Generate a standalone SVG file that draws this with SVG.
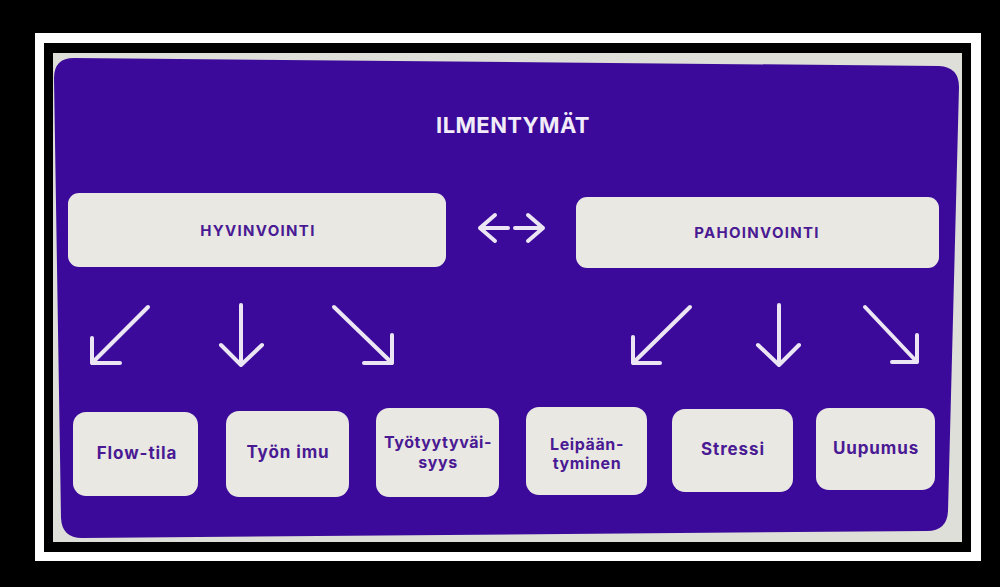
<svg xmlns="http://www.w3.org/2000/svg" width="1000" height="587" viewBox="0 0 1000 587">
<style>
.box{fill:#e9e8e2;}
.lbl{font-family:Inter,"Liberation Sans",sans-serif;font-weight:700;fill:#4a1a94;text-anchor:middle;}
.big{font-size:17px;letter-spacing:0.9px;}
.two{font-size:16px;letter-spacing:0.6px;}
.head{font-size:15px;letter-spacing:1.3px;}
.arr{fill:none;stroke:#ece6f4;stroke-width:4;stroke-linecap:round;stroke-linejoin:round;}
</style>
<rect x="0" y="0" width="1000" height="587" fill="#000"/>
<rect x="35" y="33" width="946" height="528" fill="#fff"/>
<rect x="44" y="43" width="927" height="509" fill="#000"/>
<rect x="53" y="53" width="909" height="489" fill="#dedfd8"/>
<path id="panel" d="M 74,58 L 939,66 Q 959,67 959,87 L 948,511 Q 947,531 927,531 L 82,538 Q 62,538 61,518 L 54,78 Q 54,58 74,58 Z" fill="#3b0a9a"/>
<g id="title"><text x="513" y="133" font-family="Inter,'Liberation Sans',sans-serif" font-weight="700" font-size="22" letter-spacing="0.4" fill="#f1ecf8" text-anchor="middle">ILMENTYMÄT</text></g>
<g id="hyvinvointi"><rect class="box" x="68" y="193" width="378" height="74" rx="11"/><text class="lbl head" x="258" y="236">HYVINVOINTI</text></g>
<g id="pahoinvointi"><rect class="box" x="576" y="197" width="363" height="71" rx="11"/><text class="lbl head" x="757" y="238">PAHOINVOINTI</text></g>
<g id="flow"><rect class="box" x="73" y="412" width="125" height="84" rx="13"/><text class="lbl big" x="137" y="459">Flow-tila</text></g>
<g id="tyonimu"><rect class="box" x="226" y="411" width="123" height="86" rx="13"/><text class="lbl big" x="288" y="458">Työn imu</text></g>
<g id="tyytyvaisyys"><rect class="box" x="376" y="408" width="123" height="89" rx="13"/><text class="lbl two" x="438" y="448">Työtyytyväi-</text><text class="lbl two" x="438" y="468">syys</text></g>
<g id="leipaantyminen"><rect class="box" x="526" y="407" width="121" height="88" rx="13"/><text class="lbl two" x="587" y="450">Leipään-</text><text class="lbl two" x="587" y="469">tyminen</text></g>
<g id="stressi"><rect class="box" x="672" y="409" width="121" height="83" rx="13"/><text class="lbl big" x="733" y="455">Stressi</text></g>
<g id="uupumus"><rect class="box" x="816" y="408" width="119" height="82" rx="13"/><text class="lbl big" x="876" y="454">Uupumus</text></g>
<g id="connectors" class="arr">
<path d="M480,228 L508,228 M495,215 L480,228 L495,241"/>
<path d="M515,228 L543,228 M528,215 L543,228 L528,241"/>
<path d="M148,307 L92,363 M92,338 L92,363 L120,363"/>
<path d="M241,305 L241,365 M221,345 L241,365 L262,345"/>
<path d="M334,307 L392,363 M392,335 L392,363 L364,363"/>
<path d="M690,307 L633,363 M633,337 L633,363 L660,363"/>
<path d="M779,305 L779,365 M758,345 L779,365 L799,345"/>
<path d="M865,307 L917,362 M917,335 L917,362 L892,362"/>
</g>
</svg>
